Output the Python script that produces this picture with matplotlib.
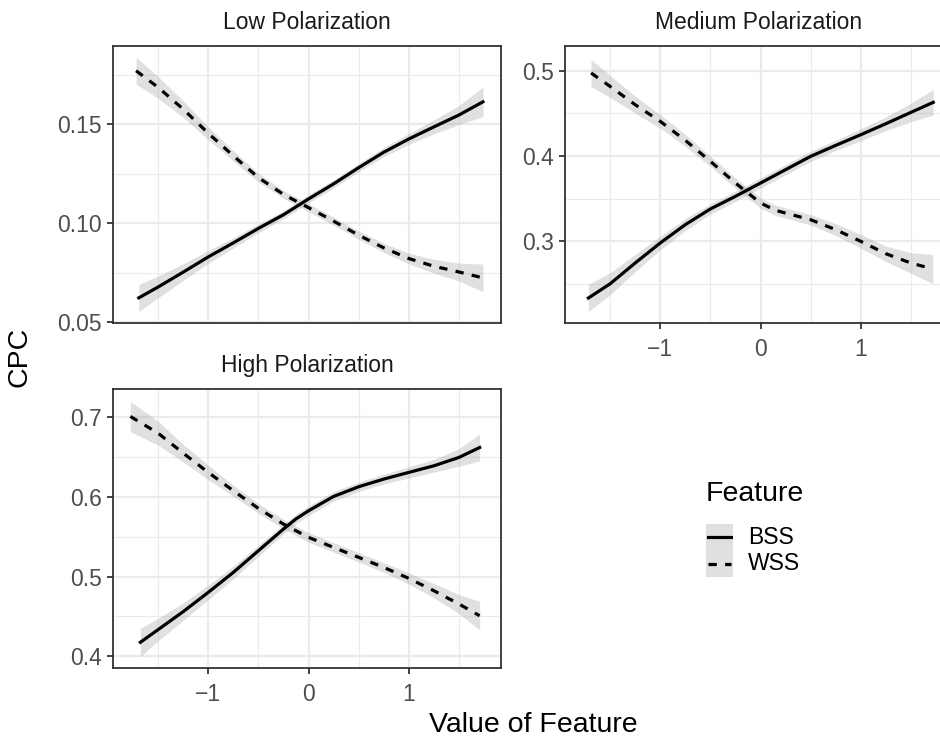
import matplotlib
matplotlib.use('Agg')
import matplotlib.pyplot as plt
import numpy as np

plt.rcParams['font.family'] = ['Liberation Sans', 'DejaVu Sans']

# ── data (x = value of feature, y = CPC) ──
panel_titles = ['Low Polarization', 'Medium Polarization', 'High Polarization']
features = ['BSS', 'WSS']

low_bss_x = [-1.693, -1.5, -1.25, -1.0, -0.75, -0.5, -0.25, 0.0, 0.25, 0.5, 0.75, 1.0, 1.25, 1.5, 1.74]
low_bss_y = [0.0622, 0.0677, 0.0752, 0.0829, 0.0900, 0.0973, 0.1042, 0.1122, 0.1198, 0.1280, 0.1358, 0.1425, 0.1486, 0.1546, 0.1613]
low_bss_se = [0.0068, 0.0055, 0.0042, 0.0032, 0.0026, 0.0022, 0.002, 0.002, 0.002, 0.0021, 0.0023, 0.0027, 0.0035, 0.0048, 0.0075]
low_wss_x = [-1.72, -1.5, -1.25, -1.0, -0.75, -0.5, -0.25, 0.0, 0.25, 0.5, 0.75, 1.0, 1.25, 1.5, 1.74]
low_wss_y = [0.1770, 0.1686, 0.1576, 0.1454, 0.1340, 0.1230, 0.1145, 0.1078, 0.1010, 0.0939, 0.0875, 0.0821, 0.0782, 0.0753, 0.0723]
low_wss_se = [0.0068, 0.0055, 0.0042, 0.0032, 0.0026, 0.0022, 0.002, 0.002, 0.002, 0.0021, 0.0023, 0.0027, 0.0035, 0.0045, 0.007]

med_bss_x = [-1.717, -1.5, -1.25, -1.0, -0.75, -0.5, -0.25, 0.0, 0.25, 0.5, 0.75, 1.0, 1.25, 1.5, 1.723]
med_bss_y = [0.2333, 0.2500, 0.2744, 0.2979, 0.3194, 0.3378, 0.3526, 0.3682, 0.3839, 0.3995, 0.4124, 0.4249, 0.4378, 0.4511, 0.4629]
med_bss_se = [0.016, 0.013, 0.01, 0.008, 0.007, 0.006, 0.006, 0.006, 0.006, 0.006, 0.006, 0.007, 0.008, 0.011, 0.015]
med_wss_x = [-1.69, -1.5, -1.25, -1.0, -0.75, -0.5, -0.25, -0.083, 0.0, 0.15, 0.25, 0.5, 0.75, 1.0, 1.25, 1.5, 1.717]
med_wss_y = [0.4973, 0.4816, 0.4601, 0.4406, 0.4183, 0.3937, 0.3682, 0.3526, 0.3448, 0.3362, 0.3330, 0.3252, 0.3135, 0.2998, 0.2853, 0.2744, 0.2674]
med_wss_se = [0.016, 0.013, 0.01, 0.008, 0.007, 0.006, 0.006, 0.006, 0.006, 0.006, 0.006, 0.006, 0.007, 0.008, 0.009, 0.012, 0.017]

high_bss_x = [-1.677, -1.5, -1.25, -1.0, -0.75, -0.5, -0.25, -0.127, 0.0, 0.25, 0.5, 0.75, 1.0, 1.25, 1.5, 1.707]
high_bss_y = [0.4176, 0.4335, 0.4561, 0.4803, 0.5054, 0.5326, 0.5598, 0.5724, 0.5828, 0.6008, 0.6130, 0.6226, 0.6310, 0.6393, 0.6498, 0.6623]
high_bss_se = [0.018, 0.014, 0.011, 0.009, 0.008, 0.007, 0.006, 0.006, 0.006, 0.006, 0.006, 0.006, 0.007, 0.008, 0.011, 0.017]
high_wss_x = [-1.777, -1.5, -1.25, -1.0, -0.75, -0.5, -0.25, 0.0, 0.25, 0.5, 0.75, 1.0, 1.25, 1.5, 1.707]
high_wss_y = [0.7013, 0.6803, 0.6552, 0.6310, 0.6080, 0.5858, 0.5661, 0.5494, 0.5368, 0.5243, 0.5117, 0.4979, 0.4824, 0.4657, 0.4510]
high_wss_se = [0.019, 0.015, 0.011, 0.009, 0.007, 0.006, 0.006, 0.006, 0.006, 0.006, 0.006, 0.007, 0.009, 0.012, 0.018]

y_major = [[0.05, 0.10, 0.15], [0.3, 0.4, 0.5], [0.4, 0.5, 0.6, 0.7]]
y_minor = [[0.075, 0.125, 0.175], [0.25, 0.35, 0.45], [0.45, 0.55, 0.65]]
y_labels = [['0.05', '0.10', '0.15'], ['0.3', '0.4', '0.5'], ['0.4', '0.5', '0.6', '0.7']]
y_lims = [(0.0495, 0.1895), (0.204, 0.529), (0.3853, 0.7358)]
x_major = [-1, 0, 1]
x_minor = [-1.5, -0.5, 0.5, 1.5]
x_lim = (-1.95, 1.92)

panels = [
    [(low_bss_x, low_bss_y, low_bss_se), (low_wss_x, low_wss_y, low_wss_se)],
    [(med_bss_x, med_bss_y, med_bss_se), (med_wss_x, med_wss_y, med_wss_se)],
    [(high_bss_x, high_bss_y, high_bss_se), (high_wss_x, high_wss_y, high_wss_se)],
]

W, H = 940, 738
fig = plt.figure(figsize=(W / 100, H / 100), dpi=100)

# panel boxes in pixels: left, top, right, bottom (right panel runs past the edge)
boxes = [(113, 46, 501, 323), (565, 46, 953, 323), (113, 389, 501, 668)]
show_x = [False, True, True]

GRID = '#EBEBEB'
BORDER = '#333333'
TICKTXT = '#4D4D4D'
styles = ['-', (0, (2.6, 2.6))]

for i, (l, t, r, b) in enumerate(boxes):
    ax = fig.add_axes([l / W, 1 - b / H, (r - l) / W, (b - t) / H])
    for (xs, ys, se), ls in zip(panels[i], styles):
        xs = np.array(xs); ys = np.array(ys); se = np.array(se)
        ax.fill_between(xs, ys - se, ys + se, color='#999999', alpha=0.3, lw=0, zorder=2)
        ax.plot(xs, ys, color='black', lw=2.3, linestyle=ls, zorder=3,
                solid_joinstyle='round', dash_joinstyle='round')
    ax.set_xlim(*x_lim)
    ax.set_ylim(*y_lims[i])
    ax.set_yticks(y_major[i])
    ax.set_yticklabels(y_labels[i])
    ax.set_yticks(y_minor[i], minor=True)
    ax.set_xticks(x_major)
    ax.set_xticks(x_minor, minor=True)
    ax.set_xticklabels(['\u22121', '0', '1'])
    ax.grid(which='major', color=GRID, lw=1.6, zorder=0)
    ax.grid(which='minor', color=GRID, lw=0.8, zorder=0)
    ax.set_axisbelow(True)
    for s in ax.spines.values():
        s.set_color(BORDER)
        s.set_linewidth(1.3)
    ax.tick_params(which='major', length=4, width=1.3, color=BORDER,
                   labelsize=16.5, labelcolor=TICKTXT, pad=4)
    ax.tick_params(axis='x', which='major', pad=7)
    ax.tick_params(which='minor', length=0)
    if not show_x[i]:
        ax.tick_params(axis='x', which='major', length=0, labelbottom=False)
    ax.set_title(panel_titles[i], fontsize=16.5, color='#1A1A1A', pad=12)

fig.text(533 / W, 1 - 725 / H, 'Value of Feature', fontsize=20.5, ha='center', va='center')
fig.text(20 / W, 1 - 357 / H, 'CPC', fontsize=20.5, ha='center', va='center', rotation=90)

# legend
fig.text(706 / W, 1 - 494 / H, 'Feature', fontsize=20.5, ha='left', va='center')
lax = fig.add_axes([706 / W, 1 - 577 / H, 27 / W, 53 / H])
lax.set_xlim(0, 1)
lax.set_ylim(0, 2)
lax.axis('off')
lax.add_patch(plt.Rectangle((0, 0), 1, 2, color='#999999', alpha=0.3, lw=0))
for k, ls in enumerate(styles):
    lax.plot([0.08, 0.92], [1.5 - k, 1.5 - k], color='black', lw=2.3, linestyle=ls)
    fig.text(748 / W, 1 - (537 + 26.5 * k) / H, features[k], fontsize=16.5, ha='left', va='center')

plt.savefig('out.png', dpi=100)
plt.close()
